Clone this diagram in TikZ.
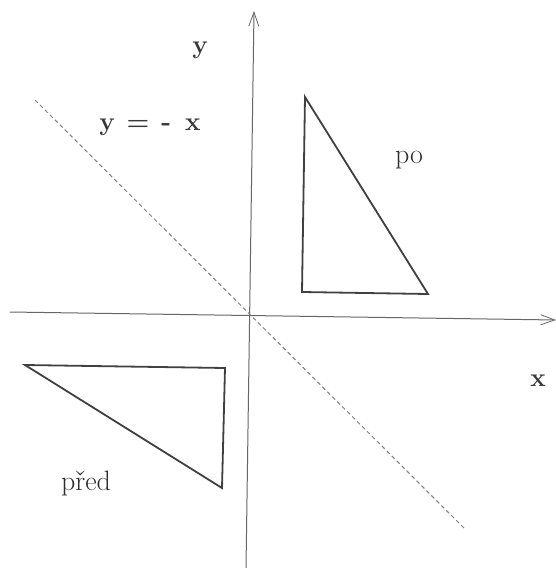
\documentclass[tikz,border=0pt]{standalone}
\usetikzlibrary{arrows.meta}
\begin{document}
\begin{tikzpicture}[x=1pt,y=-1pt,
  axis/.style={draw=black!60,line width=1pt,-{Straight Barb[length=14pt,width=10pt,line width=0.8pt]}},
  tri/.style={draw=black!75,line width=1.8pt,line join=miter},
  diag/.style={draw=black!50,line width=1pt,dash pattern=on 4pt off 3pt},
  lbl/.style={font=\fontsize{26}{30}\selectfont\bfseries,text=black!78,inner sep=0pt},
  lblr/.style={font=\fontsize{28}{32}\selectfont,text=black!82,inner sep=0pt}]
\useasboundingbox (0,0) rectangle (556,568);
\fill[white] (0,0) rectangle (556,568);
% axes
\coordinate (xs) at (10,312);
\coordinate (xe) at (556,320);
\coordinate (ys) at (246,568);
\coordinate (ye) at (254,11);
\draw[axis] (xs) -- (xe);
\draw[axis] (ys) -- (ye);
% diagonal y = -x
\coordinate (d1) at (35,100);
\coordinate (d2) at (466,530);
\draw[diag] (d1) -- (d2);
% triangle po
\coordinate (pa) at (305,97);
\coordinate (pb) at (302,292);
\coordinate (pc) at (428,294);
\draw[tri] (pa) -- (pb) -- (pc) -- cycle;
% triangle pred
\coordinate (qa) at (25,365);
\coordinate (qb) at (225,368);
\coordinate (qc) at (222,488);
\draw[tri] (qa) -- (qb) -- (qc) -- cycle;
% labels
\node[lbl] (ly) at (200,50) {y};
\node[lbl] (leq) at (150,127) {y\hspace{12pt}=\hspace{12pt}-\hspace{14pt}x};
\node[lbl] (lx) at (538,381) {x};
\node[lblr] (lpo) at (409,160) {po};
\node[lblr] (lpred) at (86,484) {před};
\end{tikzpicture}
\end{document}
